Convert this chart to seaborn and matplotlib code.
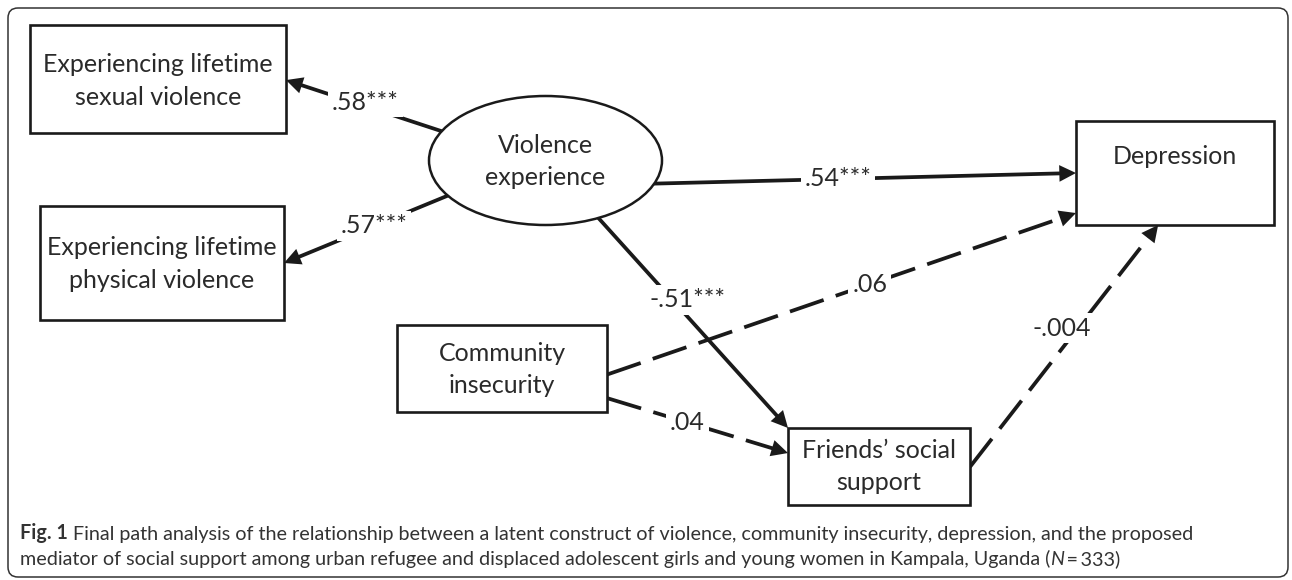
import numpy as np
import pandas as pd
import matplotlib.pyplot as plt
import seaborn as sns
from matplotlib.patches import Rectangle, Ellipse, FancyBboxPatch

sns.set_theme(style='white')
plt.rcParams['font.family'] = ['Lato', 'DejaVu Sans']

# --- data: nodes and path coefficients ---
node_ids = ['sexual', 'physical', 'violence', 'depression', 'community', 'friends']
node_labels = ['Experiencing lifetime\nsexual violence',
               'Experiencing lifetime\nphysical violence',
               'Violence\nexperience',
               'Depression',
               'Community\ninsecurity',
               'Friends\u2019 social\nsupport']
node_shapes = ['box', 'box', 'ellipse', 'box', 'box', 'box']

edge_from = ['violence', 'violence', 'violence', 'violence', 'community', 'community', 'friends']
edge_to = ['sexual', 'physical', 'depression', 'friends', 'depression', 'friends', 'depression']
edge_coef = ['.58', '.57', '.54', '-.51', '.06', '.04', '-.004']
edge_stars = ['***', '***', '***', '***', '', '', '']

caption_bold = 'Fig. 1'
caption_1 = ('Final path analysis of the relationship between a latent construct of violence, '
             'community insecurity, depression, and the proposed')
caption_2 = ('mediator of social support among urban refugee and displaced adolescent girls '
             'and young women in Kampala, Uganda (')
caption_n = 'N'
caption_end = '\u2009=\u2009333)'

# --- layout (pixels, y pointing down) ---
node_x = [158, 162, 545.5, 1175, 502, 879]
node_y = [79, 263, 160.5, 173, 368.5, 466.5]
node_w = [256, 244, 233, 198, 210, 182]
node_h = [108, 114, 129, 104, 87, 77]
text_dy = [2, 1, 1, -16, 1, 0]

# anchor on the node edge, as fractions of the half size (ellipse: angle in degrees)
start_anchor = [207, 147, 21, 63, (1, 0.14), (1, 0.68), (1, 0.01)]
end_anchor = [(1, 0.02), (1, 0), (-1, 0), (-1, -1), (-1, 0.77), (-1, -0.35), (-0.17, 1)]
label_frac = [0.49, 0.45, 0.436, 0.39, 0.56, 0.445, 0.574]
label_dx = [0, 0, 0, 15, 0, 0, -16]
label_dy = [-4, 0, 0, 0, 0, 0, 0]

ink = '#1a1a1a'
head = 16


def anchor(name, spec):
    i = node_ids.index(name)
    cx, cy, hw, hh = node_x[i], node_y[i], node_w[i] / 2, node_h[i] / 2
    if np.isscalar(spec):
        t = np.deg2rad(spec)
        return np.array([cx + hw * np.cos(t), cy + hh * np.sin(t)])
    return np.array([cx + spec[0] * hw, cy + spec[1] * hh])


fig = plt.figure(figsize=(12.92, 5.8), dpi=100)
ax = fig.add_axes([0, 0, 1, 1])

# edges as a long table for seaborn
rows = []
ends = []
for k in range(len(edge_from)):
    p0 = anchor(edge_from[k], start_anchor[k])
    p1 = anchor(edge_to[k], end_anchor[k])
    u = (p1 - p0) / np.linalg.norm(p1 - p0)
    q1 = p1 - u * head * 0.6
    sig = 'sig' if edge_stars[k] else 'ns'
    rows.append((k, p0[0], p0[1], sig))
    rows.append((k, q1[0], q1[1], sig))
    ends.append((p0, p1))
edges = pd.DataFrame(rows, columns=['edge', 'x', 'y', 'sig'])

sns.lineplot(data=edges, x='x', y='y', units='edge', estimator=None, sort=False,
             style='sig', dashes={'sig': '', 'ns': (9.5, 3.4)},
             color=ink, lw=2.7, legend=False, ax=ax, zorder=2)

for k, (p0, p1) in enumerate(ends):
    u = (p1 - p0) / np.linalg.norm(p1 - p0)
    ax.annotate('', xy=p1, xytext=p1 - u * 30,
                arrowprops=dict(arrowstyle='-|>,head_length=1.2,head_width=0.6',
                                mutation_scale=10, lw=0, color=ink,
                                shrinkA=0, shrinkB=0), zorder=3)
    f = label_frac[k]
    pos = p0 + (p1 - p0) * f
    ax.text(pos[0] + label_dx[k], pos[1] + label_dy[k], edge_coef[k] + edge_stars[k],
            ha='center', va='center', fontsize=18, color='#2a2a2a',
            bbox=dict(boxstyle='square,pad=0.15', fc='white', ec='none'), zorder=4)

# nodes
for i in range(len(node_ids)):
    if node_shapes[i] == 'ellipse':
        patch = Ellipse((node_x[i], node_y[i]), node_w[i], node_h[i],
                        fc='white', ec=ink, lw=1.8, zorder=5)
    else:
        patch = Rectangle((node_x[i] - node_w[i] / 2, node_y[i] - node_h[i] / 2),
                          node_w[i], node_h[i], fc='white', ec=ink, lw=1.9, zorder=5)
    ax.add_patch(patch)
    ax.text(node_x[i], node_y[i] + text_dy[i], node_labels[i], ha='center', va='center',
            fontsize=18, color='#2a2a2a', linespacing=1.5, zorder=6)

# outer frame
ax.add_patch(FancyBboxPatch((8, 8), 1280, 569, boxstyle='round,pad=0,rounding_size=10',
                            fc='none', ec='#333333', lw=1.1, zorder=1))

# caption
cap_kw = dict(fontsize=14.2, color='#333333')
t = ax.text(20, 539, caption_bold, fontweight='bold', va='baseline', ha='left', **cap_kw)
ax.annotate(caption_1, xy=(1, 0), xycoords=t, xytext=(4, 0), textcoords='offset points',
            va='bottom', ha='left', **cap_kw)
t2 = ax.text(20, 565, caption_2, va='baseline', ha='left', **cap_kw)
t3 = ax.annotate(caption_n, xy=(1, 0), xycoords=t2, xytext=(0, 0), textcoords='offset points',
                 va='bottom', ha='left', fontstyle='italic', **cap_kw)
ax.annotate(caption_end, xy=(1, 0), xycoords=t3, xytext=(0, 0), textcoords='offset points',
            va='bottom', ha='left', **cap_kw)

ax.set_xlim(0, 1292)
ax.set_ylim(580, 0)
ax.axis('off')
fig.savefig('out.png', dpi=100, facecolor='white')
